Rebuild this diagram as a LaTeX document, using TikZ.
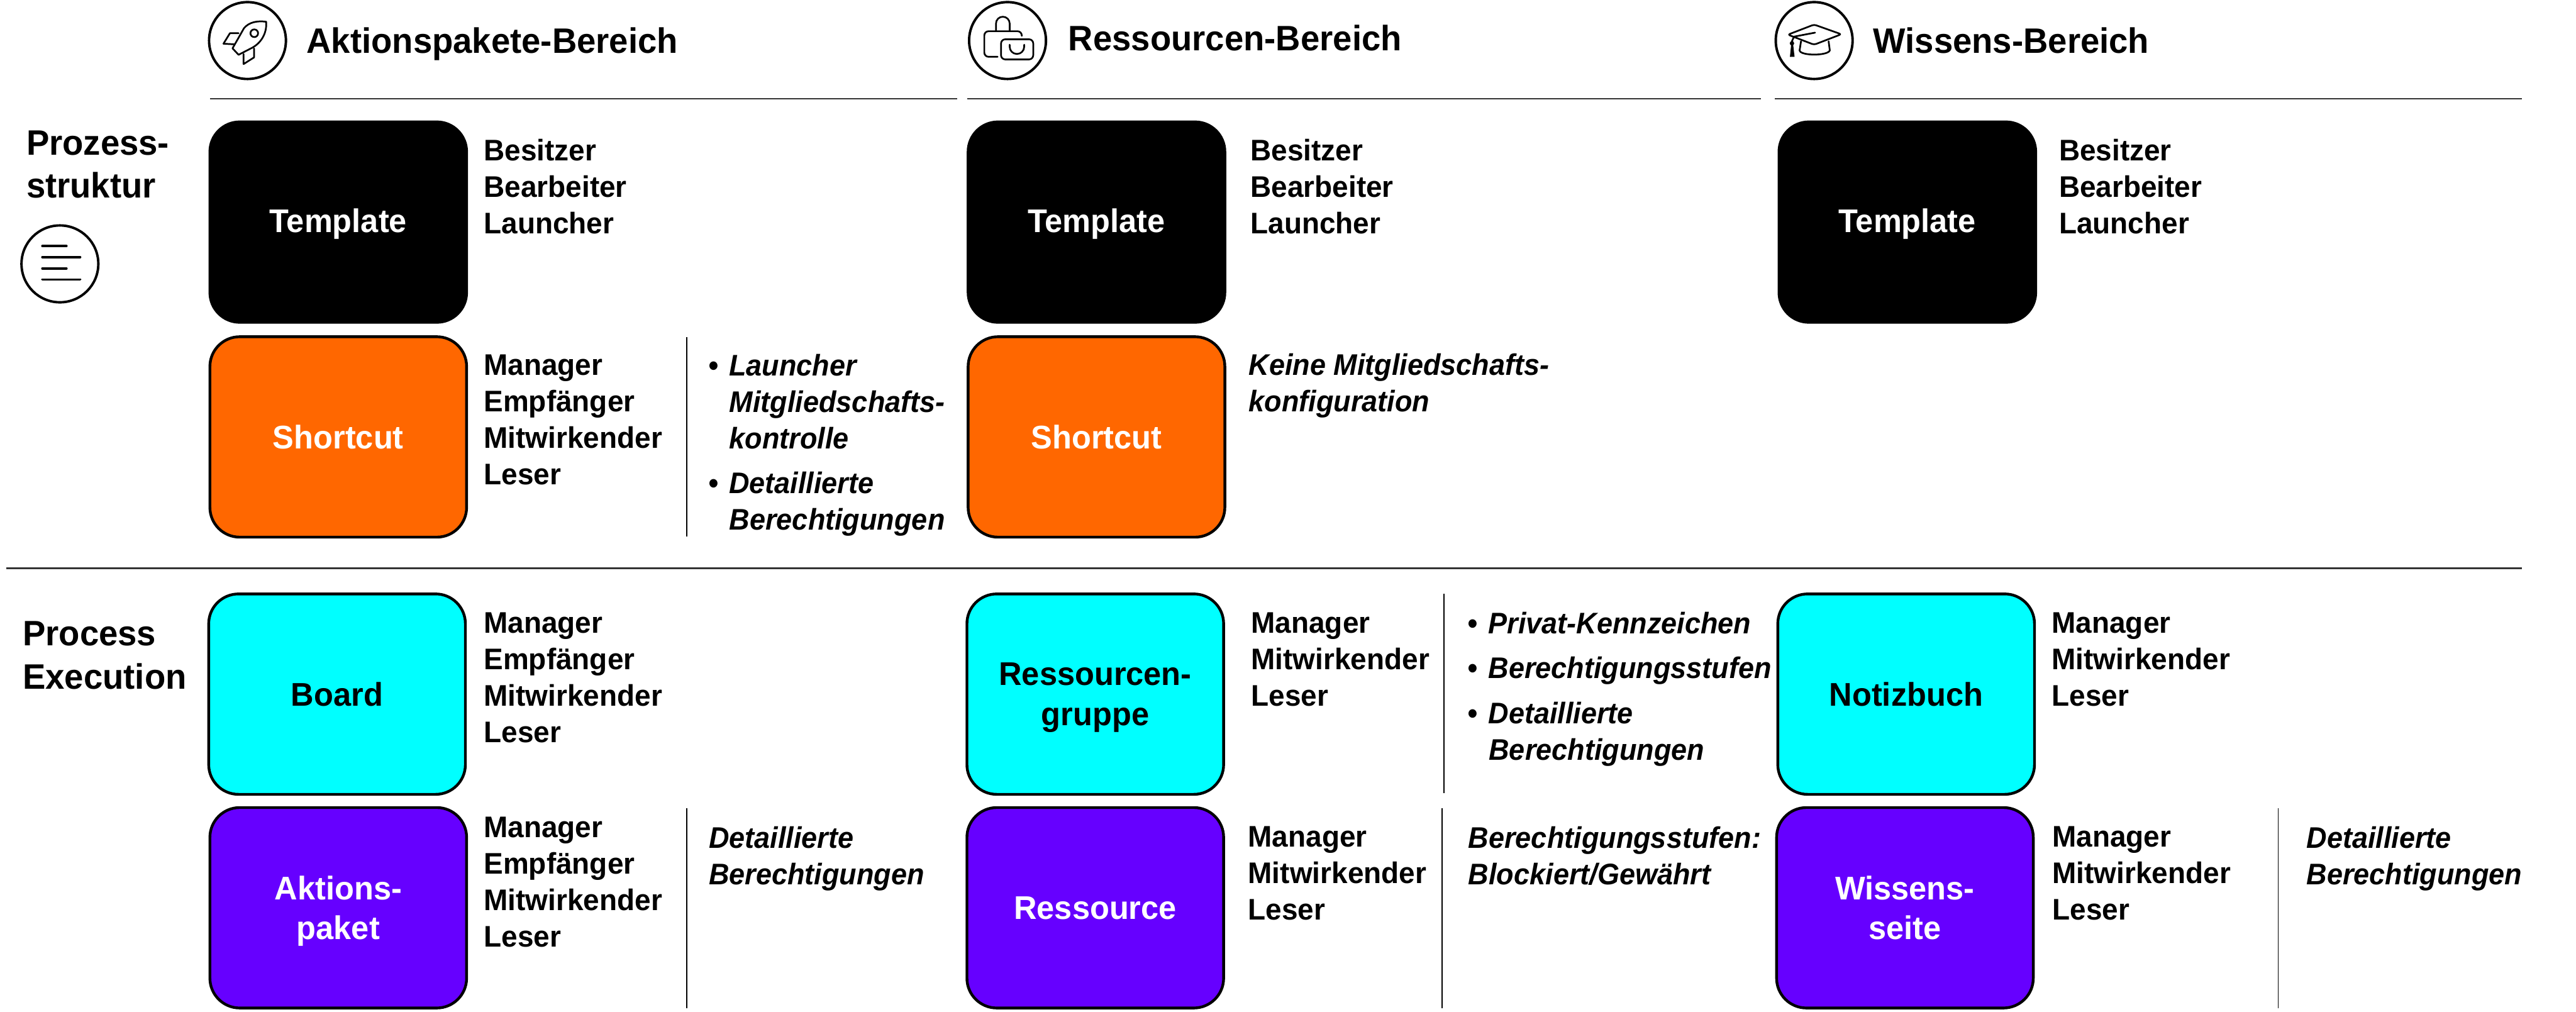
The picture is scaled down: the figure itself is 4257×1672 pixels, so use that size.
\documentclass[tikz,border=0pt]{standalone}
\usepackage{fontspec}
\setmainfont{Liberation Sans}[FakeStretch=0.97,BoldItalicFeatures={FakeStretch=0.95}]
\definecolor{shortcutorange}{HTML}{FF6700}
\definecolor{boardcyan}{HTML}{00FFFF}
\definecolor{itempurple}{HTML}{6600FF}
\definecolor{rulegray}{HTML}{333333}
\tikzset{
  card/.style={draw=black,line width=1.3pt,rounded corners=14pt,minimum width=424\unit,minimum height=331\unit,
    inner sep=0pt,outer sep=0pt,text depth=0pt,align=center,font=\bfseries\fontsize{15.4}{18.8}\selectfont},
  templatecard/.style={card,fill=black,text=white,text depth=1.5pt},
  shortcutcard/.style={card,fill=shortcutorange,text=white},
  boardcard/.style={card,fill=boardcyan,text=black},
  itemcard/.style={card,fill=itempurple,text=white},
  roles/.style={anchor=north west,inner sep=0pt,align=left,font=\bfseries\fontsize{14}{17.15}\selectfont},
  notes/.style={roles,font=\bfseries\itshape\fontsize{14}{17.15}\selectfont},
  heading/.style={anchor=base west,inner sep=0pt,font=\bfseries\fontsize{16.6}{20}\selectfont},
  rowlabel/.style={anchor=north west,inner sep=0pt,align=left,font=\bfseries\fontsize{16.6}{20.3}\selectfont},
  ring/.style={line width=1.15pt},
  iconline/.style={line width=0.8pt,line join=round,line cap=round},
  divider/.style={line width=0.45pt,color=black},
  headrule/.style={line width=0.75pt,color=rulegray},
}
\newcommand{\unit}{pt*0.2845}
\begin{document}
\begin{tikzpicture}[x=0.01cm,y=-0.01cm]
\useasboundingbox (0,0) rectangle (4257,1672);

\draw[headrule] (347,163) -- (1582,163);
\draw[headrule] (1598,163) -- (2910,163);
\draw[headrule] (2933,163) -- (4168,163);
\draw[headrule] (10,939) -- (4168,939);

\foreach \c in {(409,67),(1665,67),(2998,67),(99,436)} \draw[ring] \c circle[radius=63.5];

\node[heading] (aktionen) at (506,88) {Aktionspakete-Bereich};
\node[heading] (ressourcen) at (1765,84) {Ressourcen-Bereich};
\node[heading] (wissen) at (3095,88) {Wissens-Bereich};
\node[rowlabel] (struktur) at (43,215) {Prozess-\\struktur};
\node[rowlabel] (execution) at (37,1026) {Process\\Execution};

\begin{scope}[shift={(340,0)},x=0.00333cm,y=-0.00333cm,iconline]
\draw (300,108) .. controls (255,102) and (215,110) .. (190,140) -- (133,240) -- (163,272) -- (225,240) .. controls (270,218) and (305,170) .. cycle;
\draw (241,165) circle[radius=19];
\draw (163,165) -- (120,165) -- (88,217) -- (143,220);
\draw (240,240) -- (240,285) -- (188,318) -- (188,268);
\end{scope}

\begin{scope}[shift={(1596,0)},x=0.00333cm,y=-0.00333cm,iconline]
\draw (150,152) -- (150,117) arc[start angle=180,end angle=360,radius=34] -- (218,152);
\draw[rounded corners=2pt] (158,282) -- (92,282) -- (92,155) -- (278,155) -- (278,178);
\draw[rounded corners=2pt] (175,195) rectangle (335,295);
\draw (218,222) -- (218,232) arc[start angle=180,end angle=0,radius=36] -- (290,222);
\end{scope}

\begin{scope}[shift={(2928,0)},x=0.00333cm,y=-0.00333cm,iconline]
\draw[rounded corners=1pt] (210,122) -- (345,170) -- (210,222) -- (80,172) -- cycle;
\draw (215,162) -- (110,182) -- (100,205);
\fill (100,215) circle[radius=11];
\fill (90,282) -- (113,282) -- (106,222) -- (96,222) -- cycle;
\draw (145,205) -- (138,250) .. controls (140,278) and (280,278) .. (288,250) -- (282,205);
\end{scope}

\begin{scope}[shift={(30,365)},x=0.00333cm,y=-0.00333cm,iconline]
\foreach \y/\e in {125/240,180/308,236/240,291/308} \draw[line width=1.1pt] (120,\y) -- (\e,\y);
\end{scope}

\node[templatecard] (template1) at (559,367) {Template};
\node[templatecard] (template2) at (1812,367) {Template};
\node[templatecard] (template3) at (3152,367) {Template};
\node[shortcutcard] (shortcut1) at (559,722) {Shortcut};
\node[shortcutcard] (shortcut2) at (1812,722) {Shortcut};
\node[boardcard] (board) at (557,1147) {Board};
\node[boardcard] (gruppe) at (1810,1147) {Ressourcen-\\gruppe};
\node[boardcard] (notizbuch) at (3150,1147) {Notizbuch};
\node[itemcard] (paket) at (559,1500) {Aktions-\\paket};
\node[itemcard] (ressource) at (1810,1500) {Ressource};
\node[itemcard] (seite) at (3148,1500) {Wissens-\\seite};

\node[roles] (rollen1) at (799,229) {Besitzer\\Bearbeiter\\Launcher};
\node[roles] (rollen2) at (2066,229) {Besitzer\\Bearbeiter\\Launcher};
\node[roles] (rollen3) at (3402,229) {Besitzer\\Bearbeiter\\Launcher};
\node[roles] (rollen4) at (799,585) {Manager\\Empfänger\\Mitwirkender\\Leser};
\node[roles] (rollen5) at (799,1011) {Manager\\Empfänger\\Mitwirkender\\Leser};
\node[roles] (rollen6) at (2067,1011) {Manager\\Mitwirkender\\Leser};
\node[roles] (rollen7) at (3390,1011) {Manager\\Mitwirkender\\Leser};
\node[roles] (rollen8) at (799,1349) {Manager\\Empfänger\\Mitwirkender\\Leser};
\node[roles] (rollen9) at (2062,1365) {Manager\\Mitwirkender\\Leser};
\node[roles] (rollen10) at (3391,1365) {Manager\\Mitwirkender\\Leser};

\draw[divider] (1135,557) -- (1135,887);
\draw[divider] (2386,981) -- (2386,1311);
\draw[divider] (1135,1336) -- (1135,1666);
\draw[divider] (2383,1336) -- (2383,1666);
\draw[divider] (3765,1336) -- (3765,1666);

\node[notes] (hinweis1) at (1170,585) {•\hspace{5pt}Launcher\\\hspace{9.9pt}Mitgliedschafts-\\\hspace{9.9pt}kontrolle};
\node[notes] (hinweis2) at (1170,779) {•\hspace{5pt}Detaillierte\\\hspace{9.9pt}Berechtigungen};
\node[notes] (hinweis3) at (2063,584) {Keine Mitgliedschafts-\\konfiguration};
\node[notes] (hinweis4) at (2425,1011) {•\hspace{5pt}Privat-Kennzeichen};
\node[notes] (hinweis5) at (2425,1085) {•\hspace{5pt}Berechtigungsstufen};
\node[notes] (hinweis6) at (2425,1159) {•\hspace{5pt}Detaillierte\\\hspace{9.9pt}Berechtigungen};
\node[notes] (hinweis7) at (1171,1365) {Detaillierte\\Berechtigungen};
\node[notes] (hinweis8) at (2426,1365) {Berechtigungsstufen:\\Blockiert/Gewährt};
\node[notes] (hinweis9) at (3811,1365) {Detaillierte\\Berechtigungen};

\end{tikzpicture}
\end{document}
